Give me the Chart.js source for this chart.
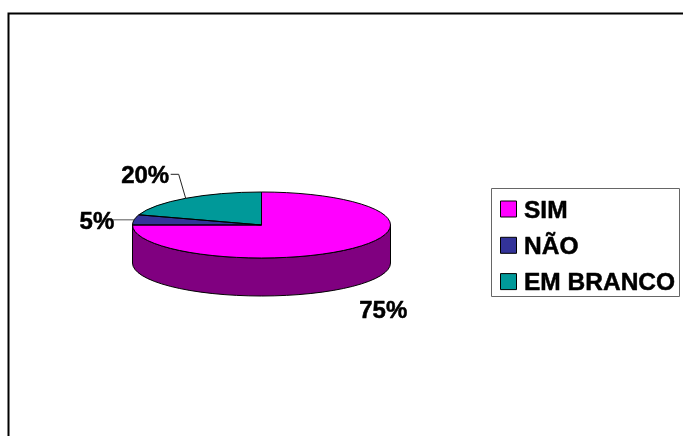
<!DOCTYPE html>
<html>
<head>
<meta charset="utf-8">
<style>html,body{margin:0;padding:0;background:#fff;overflow:hidden}canvas{display:block}</style>
<script src="https://cdn.jsdelivr.net/npm/chart.js@4"></script>
</head>
<body>
<canvas id="c" width="683" height="436"></canvas>
<script>
const categories = ["SIM", "NÃO", "EM BRANCO"];
const values = [75, 5, 20];
const percentLabels = ["75%", "5%", "20%"];
const sliceColors = ["#FF00FF", "#333399", "#009999"];
const wallColors = ["#800080", "#1A1A4D", "#004D4D"];

const TILT = 33 / 129, DEPTH = 38;
const FAMILY = "'Liberation Sans', Arial, sans-serif";
const LABEL_FONT = "bold 24px " + FAMILY;
const LEGEND_FONT = "bold 24.5px " + FAMILY;
// text anchor offset from the slice's rim midpoint, and optional leader bend
const labelOffsets = [[6.5, 69.2], [-54.5, 9.5], [-64.5, -15]];
const leaders = [null, [[-21, 0]], [[-7, -24], [-15, -24]]];

function heavyText(ctx, text, x, y) {
  ctx.fillStyle = "#000";
  ctx.strokeStyle = "#000";
  ctx.lineWidth = 0.5;
  ctx.fillText(text, x, y);
  ctx.strokeText(text, x, y);
}

const pie3d = {
  id: "pie3d",
  beforeDraw(chart) {
    const ctx = chart.ctx;
    ctx.save();
    ctx.fillStyle = "#fff";
    ctx.fillRect(0, 0, chart.width, chart.height);
    ctx.strokeStyle = "#000";
    ctx.lineWidth = 2;
    ctx.beginPath();
    ctx.moveTo(8.5, chart.height + 2);
    ctx.lineTo(8.5, 13.5);
    ctx.lineTo(chart.width + 2, 13.5);
    ctx.stroke();
    ctx.restore();
  },
  beforeDatasetsDraw(chart) {
    const ctx = chart.ctx, arcs = chart.getDatasetMeta(0).data;
    const { x: cx, y: cy, outerRadius: r } = arcs[0];
    const ry = r * TILT;
    ctx.save();
    arcs.forEach((a, i) => {
      const s = Math.max(a.startAngle, 0), e = Math.min(a.endAngle, Math.PI);
      if (e <= s) return;
      ctx.beginPath();
      ctx.ellipse(cx, cy, r, ry, 0, s, e);
      ctx.ellipse(cx, cy + DEPTH, r, ry, 0, e, s, true);
      ctx.closePath();
      ctx.fillStyle = wallColors[i];
      ctx.fill();
      ctx.strokeStyle = "#000";
      ctx.lineWidth = 1;
      ctx.stroke();
    });
    ctx.restore();
    ctx.save();
    ctx.translate(cx, cy);
    ctx.scale(1, TILT);
    ctx.translate(-cx, -cy);
  },
  afterDatasetsDraw(chart) {
    const ctx = chart.ctx, arcs = chart.getDatasetMeta(0).data;
    ctx.restore();
    const { x: cx, y: cy, outerRadius: r } = arcs[0];
    const ry = r * TILT;
    ctx.save();
    ctx.strokeStyle = "#000";
    ctx.lineWidth = 1;
    ctx.lineJoin = "round";
    arcs.forEach(a => {
      ctx.beginPath();
      ctx.moveTo(cx, cy);
      ctx.ellipse(cx, cy, r, ry, 0, a.startAngle, a.endAngle);
      ctx.closePath();
      ctx.stroke();
    });
    // percentage labels and leaders
    ctx.font = LABEL_FONT;
    ctx.textBaseline = "alphabetic";
    ctx.textAlign = "left";
    arcs.forEach((a, i) => {
      const mid = (a.startAngle + a.endAngle) / 2;
      const px = cx + r * Math.cos(mid), py = cy + ry * Math.sin(mid);
      if (leaders[i]) {
        ctx.beginPath();
        ctx.moveTo(px, py);
        leaders[i].forEach(p => ctx.lineTo(px + p[0], py + p[1]));
        ctx.strokeStyle = i === 1 ? "#555" : "#222";
        ctx.lineWidth = 1;
        ctx.stroke();
      }
      heavyText(ctx, percentLabels[i], px + labelOffsets[i][0], py + labelOffsets[i][1]);
    });
    // legend
    ctx.strokeStyle = "#666";
    ctx.lineWidth = 1;
    ctx.strokeRect(491.5, 188.5, 188, 108);
    ctx.font = LEGEND_FONT;
    categories.forEach((name, i) => {
      const y = 209 + i * 36.3;
      ctx.fillStyle = sliceColors[i];
      ctx.fillRect(500.5, y - 8, 16, 16);
      ctx.strokeStyle = "#000";
      ctx.lineWidth = 1;
      ctx.strokeRect(500.5, y - 8, 16, 16);
      heavyText(ctx, name, 524, y + 8.6);
    });
    ctx.restore();
  }
};

new Chart(document.getElementById("c"), {
  type: "pie",
  data: {
    labels: categories,
    datasets: [{
      data: values,
      backgroundColor: sliceColors,
      borderWidth: 0,
      radius: 129
    }]
  },
  options: {
    responsive: false,
    devicePixelRatio: 1,
    animation: false,
    layout: { padding: { left: 0.5, right: 160.5, top: 14, bottom: 0 } },
    plugins: { legend: { display: false }, tooltip: { enabled: false } }
  },
  plugins: [pie3d]
});
</script>
</body>
</html>
